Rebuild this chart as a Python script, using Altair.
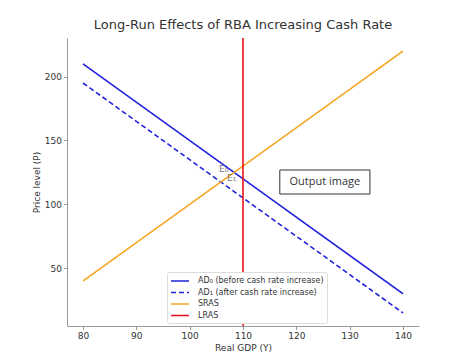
import altair as alt
import pandas as pd

# Data
gdp = [80, 140]
ad0 = [210, 30]
ad1 = [195, 15]
sras = [40, 220]
lras_x = [110]

series_names = ["AD₀ (before cash rate increase)", "AD₁ (after cash rate increase)", "SRAS", "LRAS"]
series_colors = ["#2020dd", "#2020dd", "#f5a623", "#e8141c"]
series_dash = [[1, 0], [5, 3], [1, 0], [1, 0]]

eq_labels = ["E₀", "E₁"]
eq_x = [105.5, 107.0]
eq_y = [125.3, 118.3]

note_text = ["Output image"]
note_x = [116.9]
note_x2 = [133.8]
note_y = [108.1]
note_y2 = [126.9]

rows = []
for name, vals in zip(series_names[:3], [ad0, ad1, sras]):
    for xv, yv in zip(gdp, vals):
        rows.append({"x": xv, "y": yv, "series": name})
lines_df = pd.DataFrame(rows)
lras_df = pd.DataFrame({"x": lras_x, "series": ["LRAS"]})
eq_df = pd.DataFrame({"x": eq_x, "y": eq_y, "t": eq_labels})
note_df = pd.DataFrame({"x": note_x, "x2": note_x2, "y": note_y, "y2": note_y2, "t": note_text,
                        "xc": [(a + b) / 2 for a, b in zip(note_x, note_x2)],
                        "yc": [(a + b) / 2 for a, b in zip(note_y, note_y2)]})

FONT = "DejaVu Sans"
xscale = alt.Scale(domain=[77, 143], nice=False, zero=False)
yscale = alt.Scale(domain=[4.75, 230.25], nice=False, zero=False)

color = alt.Color("series:N", scale=alt.Scale(domain=series_names, range=series_colors),
                  legend=alt.Legend(title=None, orient="none", legendX=100, legendY=234,
                                    symbolType="M-1.8,0H1.8", symbolSize=100, symbolStrokeWidth=1.6,
                                    symbolOffset=4, labelOffset=12,
                                    labelFontSize=8, labelFont=FONT, labelColor="#333",
                                    fillColor="white", strokeColor="#dddddd", padding=3,
                                    cornerRadius=2, rowPadding=1.5, labelLimit=300))
dash = alt.StrokeDash("series:N", scale=alt.Scale(domain=series_names, range=series_dash), legend=None)

xax = alt.Axis(title="Real GDP (Y)", values=[80, 90, 100, 110, 120, 130, 140], grid=False,
               domainColor="#999", tickColor="#999", tickSize=3.5, labelPadding=2,
               labelFontSize=9, labelFont=FONT, labelColor="#333",
               titleFontSize=9, titleFont=FONT, titleFontWeight="normal", titleColor="#333", titlePadding=3)
yax = alt.Axis(title="Price level (P)", values=[50, 100, 150, 200], grid=False,
               domainColor="#999", tickColor="#999", tickSize=3.5, labelPadding=2,
               labelFontSize=9, labelFont=FONT, labelColor="#333",
               titleFontSize=9, titleFont=FONT, titleFontWeight="normal", titleColor="#333", titlePadding=3)

lines = alt.Chart(lines_df).mark_line(strokeWidth=1.6).encode(
    x=alt.X("x:Q", scale=xscale, axis=xax),
    y=alt.Y("y:Q", scale=yscale, axis=yax),
    color=color, strokeDash=dash, detail="series:N")

lras = alt.Chart(lras_df).mark_rule(strokeWidth=1.6).encode(
    x=alt.X("x:Q", scale=xscale), color=color, strokeDash=dash)

eq = alt.Chart(eq_df).mark_text(align="left", baseline="alphabetic", fontSize=9, font=FONT,
                                color="#777").encode(
    x=alt.X("x:Q", scale=xscale), y=alt.Y("y:Q", scale=yscale), text="t:N")

box = alt.Chart(note_df).mark_rect(fill="white", stroke="#333", strokeWidth=1).encode(
    x=alt.X("x:Q", scale=xscale), x2="x2:Q", y=alt.Y("y:Q", scale=yscale), y2="y2:Q")
box_text = alt.Chart(note_df).mark_text(fontSize=11, font="Open Sans", color="#333").encode(
    x=alt.X("xc:Q", scale=xscale), y=alt.Y("yc:Q", scale=yscale), text="t:N")

chart = alt.layer(lines, lras, eq, box, box_text).properties(
    width=352, height=288,
    title=alt.Title("Long-Run Effects of RBA Increasing Cash Rate", fontSize=13, font=FONT,
                    fontWeight="normal", color="#333", offset=5),
    autosize=alt.AutoSizeParams(type="none"),
    padding={"left": 59, "top": 30, "right": 22, "bottom": 28},
).configure_view(stroke=None)

chart.save("out.html", embed_options={"renderer": "svg", "actions": False})
